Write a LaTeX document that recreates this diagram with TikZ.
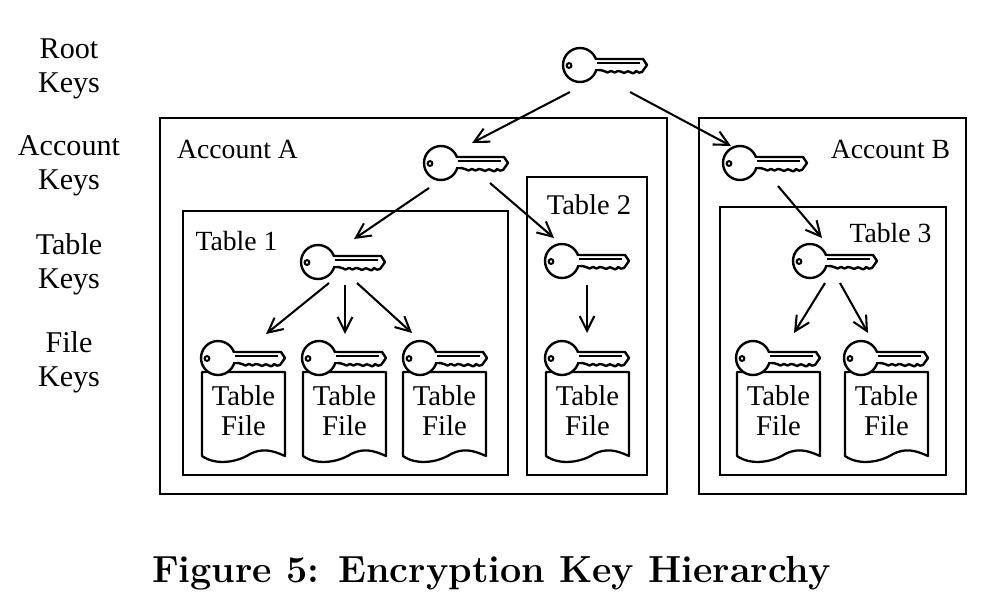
\documentclass[tikz,border=0pt]{standalone}
\usepackage{fontspec}
\setmainfont{Liberation Serif}
\newfontfamily\capfont{Latin Modern Roman}
\usetikzlibrary{arrows.meta}
\tikzset{
  x=0.75pt,y=-0.75pt,
  frame/.style={draw=black,line width=1.9pt,fill=none},
  lbl/.style={font=\fontsize{20.8}{25}\selectfont,align=center,inner sep=0pt,text=black},
  rowlbl/.style={lbl,font=\fontsize{22.6}{25.5}\selectfont},
  doclbl/.style={lbl,font=\fontsize{21.5}{22.5}\selectfont},
  keyspot/.style={inner sep=0pt,minimum width=67pt,minimum height=30pt},
  link/.style={draw=black,line width=1.55pt,-{Straight Barb[length=11pt,width=11pt,line width=1.55pt]}},
  pics/keyicon/.style={code={
    \draw[line width=1.8pt,fill=white,line join=round]
      (15,-6) -- (63,-6) -- (67,0) -- (62,7)
      .. controls (60,8) and (58,8) .. (56,6)
      .. controls (54,9) and (52,9) .. (50,7)
      .. controls (47,5) and (46,8) .. (44,8)
      .. controls (41,8) and (41,5) .. (38,6)
      .. controls (36,8) and (33,8) .. (31,6)
      .. controls (29,8) and (26,8) .. (24,6)
      .. controls (22,5) and (20,5) .. (15,5) -- cycle;
    \draw[line width=1.8pt,fill=white] (0,0) circle[radius=17];
    \fill[white] (12,-4.7) rectangle (19,3.7);
    \draw[line width=1.3pt] (17,-2) -- (60,-2);
    \draw[line width=1.5pt,fill=white] (-11,0.5) circle[radius=2.4];
  }},
  pics/tablefile/.style={code={
    \draw[line width=1.7pt,fill=white,line join=round]
      (0,0) -- (83,0) -- (83,84)
      .. controls (70,78) and (60,76) .. (48,82)
      .. controls (36,90) and (14,94) .. (0,84) -- cycle;
  }}
}
\begin{document}
\begin{tikzpicture}
\useasboundingbox (0,0) rectangle (988,604);
% boxes
\node[frame,inner sep=0pt,minimum width=380.25pt,minimum height=282pt,anchor=north west] (acca) at (158.7,116.7) {};
\node[frame,inner sep=0pt,minimum width=200.25pt,minimum height=282pt,anchor=north west] (accb) at (697.7,116.7) {};
\node[frame,inner sep=0pt,minimum width=243.75pt,minimum height=198pt,anchor=north west] (tabone) at (181.7,209.7) {};
\node[frame,inner sep=0pt,minimum width=90pt,minimum height=223.5pt,anchor=north west] (tabtwo) at (525.7,175.7) {};
\node[frame,inner sep=0pt,minimum width=169.5pt,minimum height=201pt,anchor=north west] (tabthree) at (718.7,205.7) {};
% row labels
\node[rowlbl] (lroot) at (69,68.5) {Root\\Keys};
\node[rowlbl] (lacc) at (69,165.5) {Account\\Keys};
\node[rowlbl] (ltab) at (69,264.5) {Table\\Keys};
\node[rowlbl] (lfile) at (69,362.5) {File\\Keys};
% box labels
\node[lbl] (ta) at (237.5,149.5) {Account A};
\node[lbl] (tb) at (890.5,149.5) {Account B};
\node[lbl] (t1) at (236.5,241.5) {Table 1};
\node[lbl,font=\fontsize{21.4}{25}\selectfont] (t2) at (589,204.5) {Table 2};
\node[lbl] (t3) at (890.5,233.5) {Table 3};
% documents
\foreach \n/\x in {a/202,b/303,c/403,d/546,e/737,f/845}{
  \pic at (\x,372) {tablefile};
  \node[doclbl] (doc\n) at (\x+41.5,411) {Table\\File};
}
% keys
\foreach \n/\x/\y in {root/580/65,kacca/441/163,kaccb/740/163,ktone/318/262,kttwo/562/261,ktthree/810/261,
   fa/218/358,fb/319/358,fc/420/358,fd/562/358,fe/753/358,ff/861/358}{
  \node[keyspot] (\n) at (\x+22,\y) {};
  \pic at (\x,\y) {keyicon};
}
% connectors
\draw[link] ([shift={(-32,27)}]root.center) -- ([shift={(9,-20)}]kacca.center);
\draw[link] ([shift={(28,27)}]root.center) -- ([shift={(-31,-17)}]kaccb.center);
\draw[link] ([shift={(-34,25)}]kacca.center) -- ([shift={(14,-23)}]ktone.center);
\draw[link] ([shift={(27,20)}]kacca.center) -- ([shift={(-30,-23)}]kttwo.center);
\draw[link] ([shift={(16,23)}]kaccb.center) -- ([shift={(-10,-23)}]ktthree.center);
\draw[link] ([shift={(-11,21)}]ktone.center) -- ([shift={(26,-24)}]fa.center);
\draw[link] ([shift={(5,23)}]ktone.center) -- ([shift={(4,-24)}]fb.center);
\draw[link] ([shift={(17,21)}]ktone.center) -- ([shift={(-30,-25)}]fc.center);
\draw[link] ([shift={(3,24)}]kttwo.center) -- ([shift={(3,-25)}]fd.center);
\draw[link] ([shift={(-7,22)}]ktthree.center) -- ([shift={(19,-25)}]fe.center);
\draw[link] ([shift={(8,22)}]ktthree.center) -- ([shift={(-15,-25)}]ff.center);
% caption
\node[inner sep=0pt,font=\capfont\bfseries\fontsize{28.3}{34}\selectfont] (cap) at (491.5,573) {Figure 5: Encryption Key Hierarchy};
\end{tikzpicture}
\end{document}
